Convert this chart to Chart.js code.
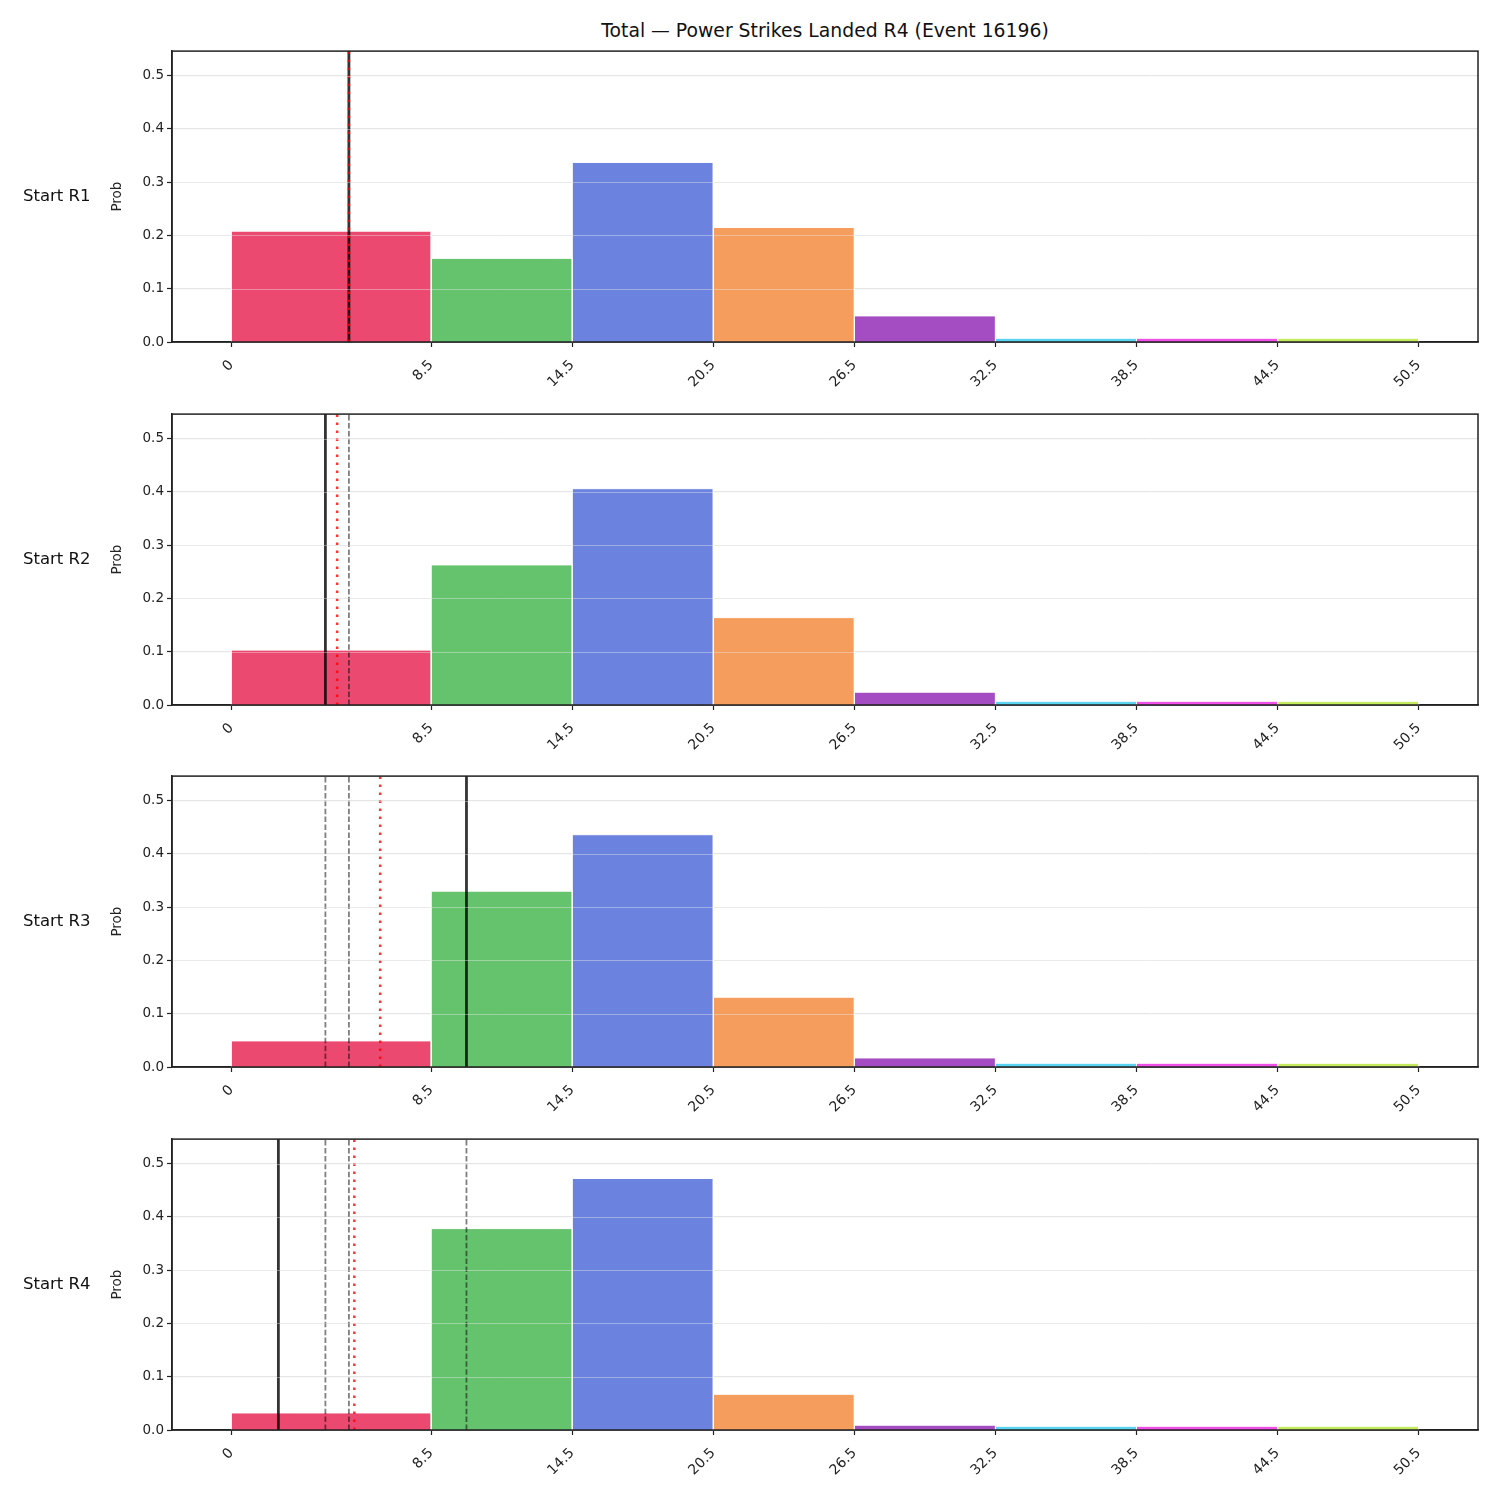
<!DOCTYPE html>
<html>
<head>
<meta charset="utf-8">
<script src="https://cdn.jsdelivr.net/npm/chart.js@4/dist/chart.umd.min.js"></script>
<style>
  body { margin: 0; background: #fff; font-family: 'DejaVu Sans', sans-serif; }
  #wrap { position: relative; width: 1500px; height: 1500px; }
  canvas { position: absolute; left: 0; }
  .lbl { position: absolute; font-size: 16.5px; color: #111; white-space: nowrap; }
</style>
</head>
<body>
<div id="wrap"></div>
<script>
// bin edges of the histogram (also the x tick labels)
const binEdges = [0, 8.5, 14.5, 20.5, 26.5, 32.5, 38.5, 44.5, 50.5];
const binColors = ['#EB4970', '#65C36E', '#6B83DF', '#F59D5C', '#A44CC1', '#5AD3F0', '#F050E8', '#C4EB5E'];
const rowLabels = ['Start R1', 'Start R2', 'Start R3', 'Start R4'];
const yTicks = [0, 0.1, 0.2, 0.3, 0.4, 0.5];

// probabilities per bin, one array per starting round
const probR1 = [0.208, 0.157, 0.337, 0.215, 0.049, 0.007, 0.007, 0.007];
const probR2 = [0.103, 0.263, 0.406, 0.164, 0.024, 0.007, 0.007, 0.007];
const probR3 = [0.049, 0.330, 0.436, 0.131, 0.017, 0.007, 0.007, 0.007];
const probR4 = [0.032, 0.378, 0.472, 0.067, 0.009, 0.007, 0.007, 0.007];
const allProbs = [probR1, probR2, probR3, probR4];

// reference lines
const actualLine = [5, 4, 10, 2];          // solid black
const expectedLine = [5, 4.5, 6.33, 5.23]; // red dotted
const priorLines = [[], [5], [4, 5], [4, 5, 10]]; // grey dashed

const yMax = 0.546;
const plotTops = [50, 413, 775, 1138];
const plotH = 292;
const padTop = 10;
const xAxisH = 55;

const wrap = document.getElementById('wrap');

const title = document.createElement('div');
title.className = 'lbl';
title.textContent = 'Total — Power Strikes Landed R4 (Event 16196)';
title.style.fontSize = '18.8px';
title.style.left = '825px';
title.style.top = '20px';
title.style.transform = 'translateX(-50%)';
wrap.appendChild(title);

// spines on all four sides + faint grid drawn over the bars
const framePlugin = {
  id: 'frame',
  afterDatasetsDraw(chart) {
    const a = chart.chartArea;
    const c = chart.ctx;
    const ys = chart.scales.y;
    c.save();
    c.strokeStyle = 'rgba(240,240,240,0.4)';
    c.lineWidth = 1;
    yTicks.forEach(function(v) {
      if (v === 0) return;
      const py = Math.round(ys.getPixelForValue(v)) + 0.5;
      c.beginPath();
      c.moveTo(a.left, py);
      c.lineTo(a.right, py);
      c.stroke();
    });
    c.strokeStyle = '#222';
    c.lineWidth = 1.5;
    c.strokeRect(a.left, a.top, a.right - a.left, a.bottom - a.top);
    c.restore();
  }
};

function vline(x, color, width, dash, order) {
  return {
    data: [{ x: x, y: 0 }, { x: x, y: yMax }],
    borderColor: color,
    borderWidth: width,
    borderDash: dash,
    pointRadius: 0,
    fill: false,
    order: order
  };
}

allProbs.forEach(function(probs, i) {
  const canvas = document.createElement('canvas');
  canvas.width = 1500;
  canvas.height = padTop + plotH + xAxisH;
  canvas.style.top = (plotTops[i] - padTop) + 'px';
  wrap.appendChild(canvas);

  const row = document.createElement('div');
  row.className = 'lbl';
  row.textContent = rowLabels[i];
  row.style.left = '23px';
  row.style.top = (plotTops[i] + plotH / 2 - 10) + 'px';
  wrap.appendChild(row);

  const datasets = [];
  datasets.push(vline(expectedLine[i], 'rgba(255,0,0,0.8)', 2.5, [2.5, 5.5], 0));
  datasets.push(vline(actualLine[i], 'rgba(0,0,0,0.8)', 2.8, [], 1));
  priorLines[i].forEach(function(v) {
    datasets.push(vline(v, 'rgba(0,0,0,0.5)', 1.8, [5.5, 2.4], 2));
  });
  probs.forEach(function(p, b) {
    const lo = binEdges[b], hi = binEdges[b + 1];
    datasets.push({
      data: [{ x: lo, y: 0 }, { x: lo, y: p }, { x: hi, y: p }, { x: hi, y: 0 }],
      borderColor: '#ffffff',
      borderWidth: 1,
      backgroundColor: binColors[b],
      fill: 'origin',
      pointRadius: 0,
      tension: 0,
      order: 3
    });
  });

  new Chart(canvas.getContext('2d'), {
    type: 'line',
    data: { datasets: datasets },
    plugins: [framePlugin],
    options: {
      responsive: false,
      animation: false,
      devicePixelRatio: 1,
      layout: { padding: { left: 105, right: 22, top: padTop, bottom: 0 } },
      plugins: { legend: { display: false }, tooltip: { enabled: false } },
      scales: {
        x: {
          type: 'linear',
          min: -2.525,
          max: 53.025,
          afterBuildTicks: function(scale) {
            scale.ticks = binEdges.map(v => ({ value: v }));
          },
          afterFit: function(scale) { scale.height = xAxisH; },
          grid: { drawOnChartArea: false, tickColor: '#222', tickLength: 5, tickWidth: 1.2 },
          border: { color: '#222', width: 1.5 },
          ticks: {
            autoSkip: false,
            minRotation: 45,
            maxRotation: 45,
            padding: 10,
            color: '#222',
            font: { family: 'DejaVu Sans', size: 14 },
            callback: v => String(v)
          }
        },
        y: {
          min: 0,
          max: yMax,
          afterBuildTicks: function(scale) {
            scale.ticks = yTicks.map(v => ({ value: v }));
          },
          afterFit: function(scale) { scale.width = 67; },
          grid: { color: '#e6e6e6', lineWidth: 1, tickColor: '#222', tickLength: 5, tickWidth: 1.2 },
          border: { color: '#222', width: 1.5 },
          ticks: {
            padding: 3,
            color: '#222',
            font: { family: 'DejaVu Sans', size: 13.5 },
            callback: v => v.toFixed(1)
          },
          title: {
            display: true,
            text: 'Prob',
            color: '#222',
            font: { family: 'DejaVu Sans', size: 13.5 },
            padding: { top: 4, bottom: 4 }
          }
        }
      }
    }
  });
});
</script>
</body>
</html>
